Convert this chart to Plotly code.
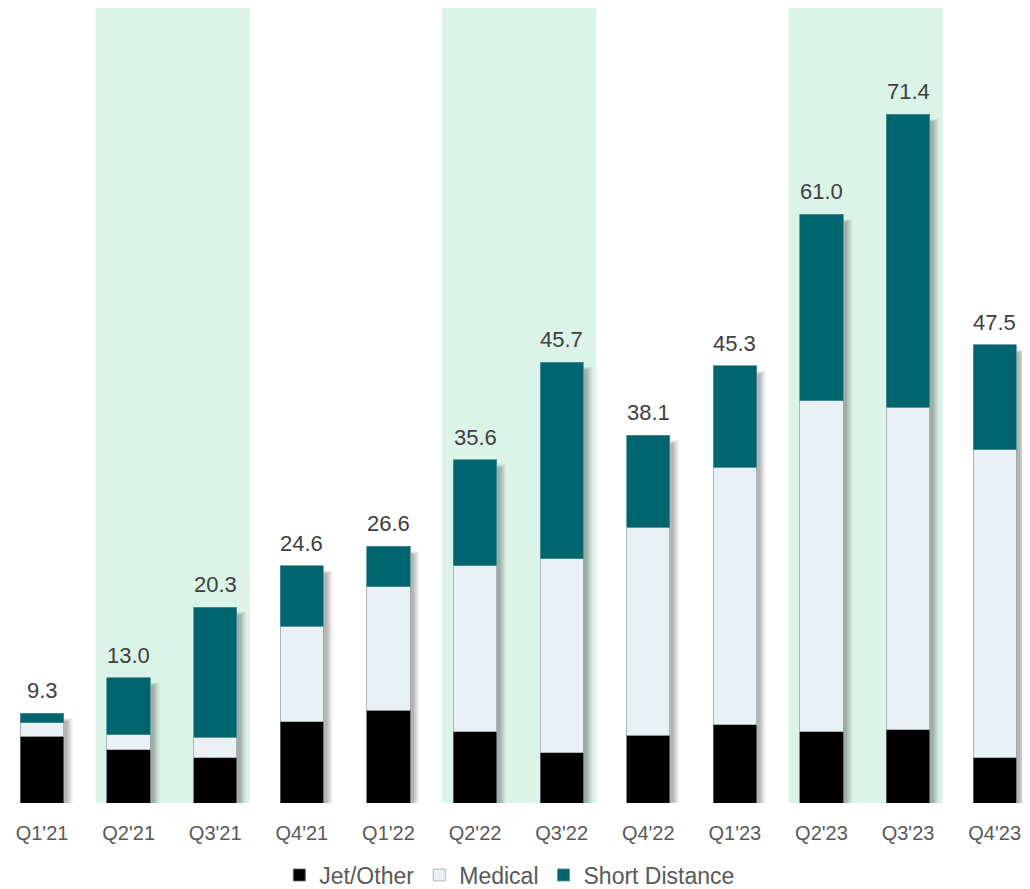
import plotly.graph_objects as go

quarters = ["Q1'21", "Q2'21", "Q3'21", "Q4'21", "Q1'22", "Q2'22", "Q3'22", "Q4'22", "Q1'23", "Q2'23", "Q3'23", "Q4'23"]
jet_other = [6.9, 5.5, 4.7, 8.4, 9.6, 7.4, 5.2, 7.0, 8.1, 7.4, 7.6, 4.7]
medical = [1.4, 1.6, 2.1, 9.9, 12.8, 17.2, 20.1, 21.6, 26.7, 34.3, 33.4, 31.9]
short_distance = [1.0, 5.9, 13.5, 6.3, 4.2, 11.0, 20.4, 9.5, 10.5, 19.3, 30.4, 10.9]
totals = [9.3, 13.0, 20.3, 24.6, 26.6, 35.6, 45.7, 38.1, 45.3, 61.0, 71.4, 47.5]
highlight_pairs = [(1, 2), (5, 6), (9, 10)]

FONT = "Liberation Sans, Arial, sans-serif"
BAR_W = 0.5
x_idx = list(range(len(quarters)))

fig = go.Figure()
fig.add_trace(go.Bar(name="Jet/Other", x=x_idx, y=jet_other,
                     marker=dict(color="#000000", line=dict(width=0.8, color="#5f6a6e")), width=BAR_W))
fig.add_trace(go.Bar(name="Medical", x=x_idx, y=medical,
                     marker=dict(color="#e9f1f4", line=dict(width=0.8, color="#9aa6aa")), width=BAR_W))
fig.add_trace(go.Bar(name="Short Distance", x=x_idx, y=short_distance,
                     marker=dict(color="#00646e", line=dict(width=0.8, color="#4f9197")), width=BAR_W))

shapes = []
YTOP = 82.4
for a, b in highlight_pairs:
    shapes.append(dict(type="rect", xref="x", yref="y", x0=a - 0.38, x1=b + 0.4, y0=0, y1=YTOP,
                       fillcolor="#dcf3e8", line=dict(width=0), layer="below"))
# soft drop shadows derived from totals
shadow_layers = [(0.105, 0.65, 0.07), (0.085, 0.55, 0.09), (0.065, 0.45, 0.11), (0.045, 0.35, 0.13)]
for i, t in enumerate(totals):
    for dx, dy, op in shadow_layers:
        shapes.append(dict(type="rect", xref="x", yref="y",
                           x0=i - BAR_W / 2 + dx * 0.6, x1=i + BAR_W / 2 + dx,
                           y0=-dy, y1=t - 0.5 - (0.65 - dy),
                           fillcolor="#303030", opacity=op, line=dict(width=0), layer="below"))

annotations = []
for i, t in enumerate(totals):
    annotations.append(dict(x=i, y=t, xref="x", yref="y", text=f"{t:.1f}", showarrow=False,
                            yanchor="bottom", yshift=8, font=dict(family=FONT, size=22, color="#404040")))

fig.update_layout(
    width=1022, height=881,
    margin=dict(l=0, r=0, t=0, b=86, autoexpand=False),
    barmode="stack",
    plot_bgcolor="white", paper_bgcolor="white",
    shapes=shapes, annotations=annotations,
    showlegend=True,
    legend=dict(orientation="h", x=0.491, xanchor="center", y=-0.0906, yanchor="middle",
                font=dict(family=FONT, size=23, color="#595959"), traceorder="normal",
                itemwidth=30),
    xaxis=dict(range=[-0.393, 11.408], tickmode="array", tickvals=x_idx, ticktext=quarters,
               showgrid=False, zeroline=False, showline=False, ticks="", ticklabelstandoff=16,
               tickfont=dict(family=FONT, size=20, color="#595959")),
    yaxis=dict(range=[0, YTOP], visible=False, showgrid=False, zeroline=False),
    font=dict(family=FONT),
)
fig.write_html("out.html")
